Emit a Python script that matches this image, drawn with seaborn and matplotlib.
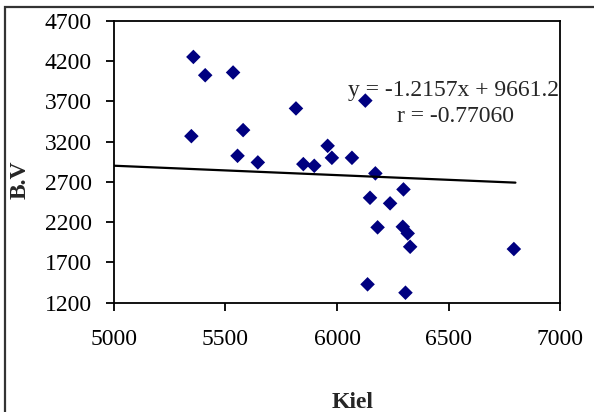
import matplotlib
matplotlib.use("Agg")
import matplotlib.pyplot as plt
import seaborn as sns
import pandas as pd
from matplotlib.patches import Rectangle

# -------------------------------------------------------
# Data
# -------------------------------------------------------

kiel = [5356, 5409, 5534, 5347, 5579, 5554, 5645, 5816, 5849, 5898,
        5958, 5977, 6067, 6127, 6172, 6148, 6298, 6238, 6182, 6295,
        6317, 6328, 6793, 6137, 6307]
bv = [4250, 4023, 4057, 3267, 3342, 3023, 2941, 3611, 2920, 2899,
      3147, 2998, 2998, 3708, 2805, 2502, 2606, 2433, 2135, 2142,
      2060, 1894, 1866, 1428, 1324]

# drawn trend line end points
line_x = [5000, 6800]
line_y = [2900, 2690]

x_ticks = [5000, 5500, 6000, 6500, 7000]
y_ticks = [1200, 1700, 2200, 2700, 3200, 3700, 4200, 4700]

eq_text = "y = -1.2157x + 9661.2"
r_text = "r = -0.77060"

df = pd.DataFrame({"Kiel": kiel, "B.V": bv})
line_df = pd.DataFrame({"x": line_x, "y": line_y})

# -------------------------------------------------------
# Plot Style
# -------------------------------------------------------

sns.set_style("ticks")
plt.rcParams["font.family"] = ["Liberation Serif", "DejaVu Serif"]

fig = plt.figure(figsize=(5.94, 4.12), dpi=100)
ax = fig.add_axes([0.1919, 0.2653, 0.7509, 0.6845])

sns.lineplot(data=line_df, x="x", y="y", color="black", linewidth=1.6, ax=ax)

sns.scatterplot(
    data=df,
    x="Kiel",
    y="B.V",
    marker="D",
    s=55,
    color="#000080",
    edgecolor="none",
    ax=ax
)

ax.set_xlim(5000, 7000)
ax.set_ylim(1200, 4700)
ax.set_xticks(x_ticks)
ax.set_yticks(y_ticks)
ax.tick_params(labelsize=17, length=6, width=1.3, direction="out", colors="black")
ax.tick_params(axis="x", pad=13)
ax.tick_params(axis="y", pad=10)
for s in ax.spines.values():
    s.set_linewidth(1.3)
    s.set_color("black")

ax.set_xlabel("Kiel", fontsize=17, fontweight="bold")
ax.set_ylabel("B.V", fontsize=17, fontweight="bold")
ax.xaxis.set_label_coords(0.534, -0.317)
ax.yaxis.set_label_coords(-0.186, 0.435)

ax.text(0.762, 0.754, eq_text, transform=ax.transAxes, fontsize=17, ha="center", va="center")
ax.text(0.765, 0.66, r_text, transform=ax.transAxes, fontsize=17, ha="center", va="center")

# outer frame (only left and top edges are visible)
fig.patches.append(Rectangle((5 / 594, -0.1), 1.2, 1.1 - 7 / 412,
                             transform=fig.transFigure, fill=False,
                             edgecolor="#333333", linewidth=1.6))

fig.savefig("out.png", dpi=100)
